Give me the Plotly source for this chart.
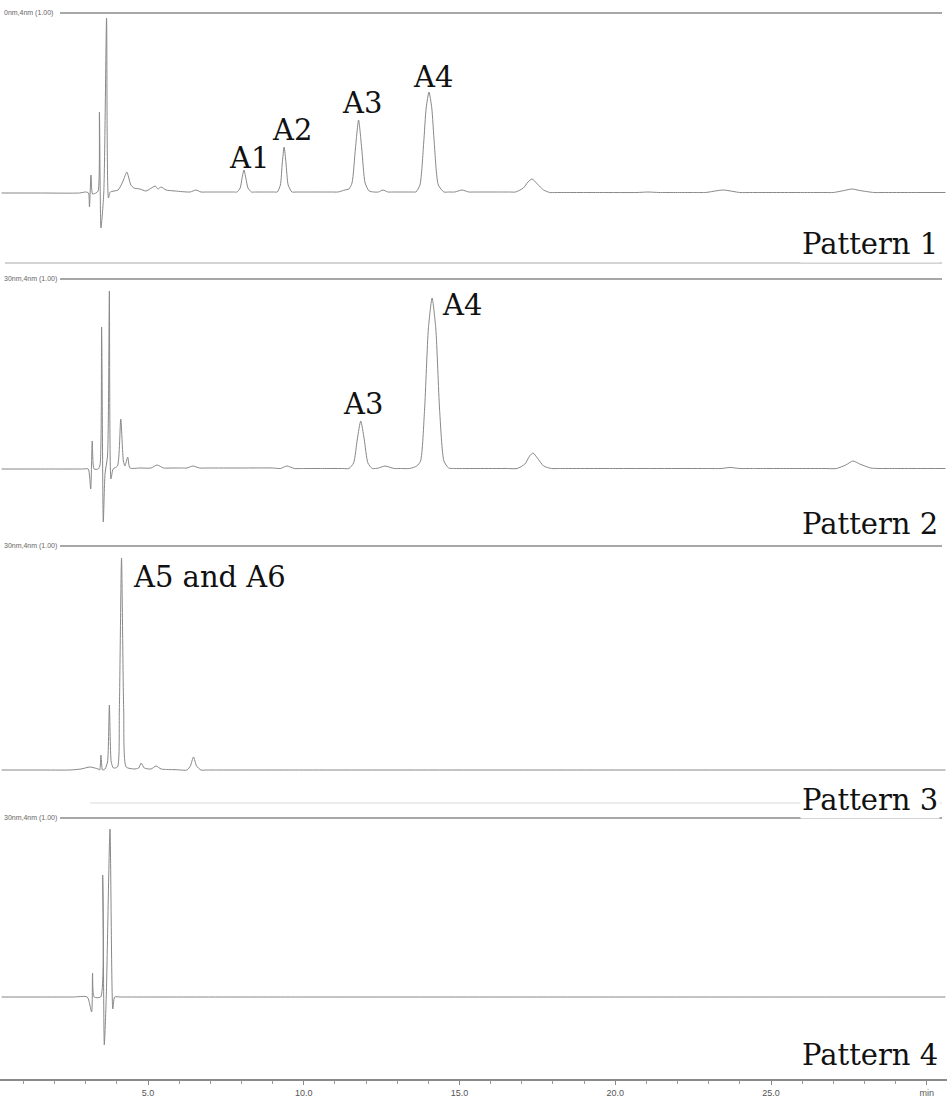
import plotly.graph_objects as go

W, H = 947, 1098

# ---------------- data (time in min, signal in arbitrary units, baseline = 0) -------------
p1_t = [0.3, 1.5, 2.80, 3.00, 3.09, 3.12, 3.17, 3.22, 3.33, 3.40, 3.44, 3.49, 3.58, 3.67, 3.73, 3.79,
        4.04, 4.20, 4.32, 4.45, 4.55, 4.74, 4.94, 5.23, 5.32, 5.42, 5.58, 5.87, 6.35, 6.54, 6.70,
        6.90, 7.40, 7.75, 7.86, 7.96, 8.02, 8.08, 8.14, 8.21, 8.32, 8.45,
        8.70, 9.05, 9.15, 9.25, 9.31, 9.37, 9.43, 9.50, 9.62, 9.75,
        10.20, 10.90, 11.10, 11.32, 11.45, 11.55, 11.66, 11.76, 11.86, 11.97, 12.10, 12.25, 12.40,
        12.54, 12.70, 12.85,
        13.20, 13.50, 13.60, 13.73, 13.85, 13.93, 14.02, 14.11, 14.19, 14.32, 14.50, 14.65,
        14.85, 15.08, 15.30, 15.50,
        16.20, 16.60, 16.80, 17.05, 17.20, 17.33, 17.50, 17.70, 17.90, 18.10,
        19.50, 20.70, 21.05, 21.40, 22.00, 22.60, 22.90, 23.46, 24.00, 24.40,
        26.00, 26.70, 27.00, 27.35, 27.60, 27.85, 28.30, 28.60, 29.50, 30.60]
p1_y = [0, 0, 0, 1, 0, -14, 18, -1, 0, 2, 81, -35, 0, 175, -5, 1,
        3, 12, 21, 8, 5, 4, 2, 7, 4, 6, 3, 2, 1, 3, 1,
        1, 1, 1, 1, 5, 15, 23, 15, 5, 1, 1,
        1, 1, 1, 8, 30, 46, 30, 8, 1, 1,
        1, 1, 1, 3, 4, 10, 45, 73, 45, 10, 2, 1, 1,
        3, 1, 1,
        1, 1, 1, 8, 50, 85, 101, 85, 50, 8, 1, 1,
        1, 3, 1, 1,
        1, 1, 1, 5, 11, 14, 9, 3, 0.5, 0.5,
        0.5, 0.5, 1, 0.5, 0.5, 0.5, 0.5, 3, 0.5, 0.5,
        0.5, 0.5, 0.5, 2.5, 4, 2.5, 0.5, 0.5, 0.5, 0.5]

p2_t = [0.3, 1.5, 2.90, 3.08, 3.16, 3.21, 3.27, 3.40, 3.46, 3.51, 3.565, 3.62, 3.70, 3.76, 3.81, 3.88,
        4.02, 4.125, 4.21, 4.26, 4.35, 4.42, 4.74, 5.10, 5.29, 5.50, 5.80, 6.10, 6.25, 6.44, 6.65, 6.90,
        8.00, 9.00, 9.25, 9.46, 9.70, 9.95,
        10.60, 11.25, 11.45, 11.60, 11.72, 11.83, 11.94, 12.06, 12.20, 12.40, 12.61, 12.90, 13.10,
        13.40, 13.63, 13.75, 13.88, 14.00, 14.12, 14.24, 14.36, 14.50, 14.65, 14.85,
        15.60, 16.50, 16.85, 17.10, 17.25, 17.36, 17.50, 17.70, 17.95, 18.20,
        20.00, 23.00, 23.40, 23.68, 24.00, 24.40,
        25.80, 26.70, 27.10, 27.40, 27.63, 27.85, 28.20, 28.50, 28.90, 29.70, 30.60]
p2_y = [0, 0, 0, 0, -20, 28, 0, 0, 4, 142, -53, -5, 13, 178, -10, 0,
        3, 50, 8, 3, 12, 1, 1, 1, 4, 1, 1, 1, 1, 3, 1, 1,
        1, 1, 0.5, 3, 0.5, 0.5,
        0.5, 0.5, 0.5, 6, 30, 48, 30, 6, 0.5, 1, 3, 0.5, 0.5,
        0.5, 3, 8, 60, 140, 171, 140, 60, 8, 1, 0.5,
        0.5, 0.5, 0.5, 5, 13, 16, 11, 3, 0.5, 0.5,
        0.5, 0.5, 0.5, 1.5, 0.5, 0.5,
        0.5, 0.5, 0.5, 4, 8, 5, 1, 0.5, 0.5, 0.5, 0.5]

p3_t = [0.3, 1.5, 2.50, 2.85, 3.14, 3.40, 3.45, 3.49, 3.54, 3.62, 3.70, 3.76, 3.82, 3.89,
        4.02, 4.08, 4.15, 4.22, 4.30, 4.55, 4.70, 4.78, 4.88, 5.10, 5.26, 5.42, 5.60,
        5.90, 6.25, 6.36, 6.46, 6.56, 6.70, 6.90, 7.40, 10.00, 20.00, 30.60]
p3_y = [0, 0, 0, 1, 3, 1, 0, 15, 0, 1, 8, 65, 8, 2,
        3, 60, 212, 60, 3, 1, 2, 7, 2, 1, 4, 1, 0.5,
        0.3, 0, 4, 13, 4, 0, 0, 0, 0, 0, 0]

p4_t = [0.3, 1.5, 2.60, 3.05, 3.19, 3.22, 3.27, 3.48, 3.545, 3.597, 3.66, 3.78, 3.87, 3.93,
        4.10, 4.50, 10.00, 20.00, 30.60]
p4_y = [0, 0, 0, 0, -15, 24, 0, 0, 122, -48, 0, 168, -12, 0,
        0, 0, 0, 0, 0]

x_tickvals = [5, 10, 15, 20, 25, 30]
x_ticktext = ["5.0", "10.0", "15.0", "20.0", "25.0", "min"]
detector_labels = ["0nm,4nm (1.00)", "30nm,4nm (1.00)", "30nm,4nm (1.00)", "30nm,4nm (1.00)"]
pattern_labels = ["Pattern 1", "Pattern 2", "Pattern 3", "Pattern 4"]
peak_labels = [  # (panel, text, time, height)
    (1, "A1", 8.24, 35), (1, "A2", 9.62, 63), (1, "A3", 11.87, 90), (1, "A4", 14.15, 116),
    (2, "A3", 11.90, 65), (2, "A4", 15.08, 164),
    (3, "A5 and A6", 6.99, 193),
]

# ---------------- layout geometry (pixels) ----------------
panel_top = [13, 279, 546, 818]
panel_base = [193, 469, 770, 997]
panel_low = [60, 60, 30, 63]
label_y = [244, 524, 800, 1055]

def py(p):
    return 1 - p / H

fig = go.Figure()
series = [(p1_t, p1_y), (p2_t, p2_y), (p3_t, p3_y), (p4_t, p4_y)]
for i, (t, y) in enumerate(series):
    fig.add_trace(go.Scatter(x=t, y=y, mode="lines", xaxis="x",
                             yaxis="y" if i == 0 else f"y{i+1}",
                             line=dict(color="#888888", width=1.0, shape="spline", smoothing=0.6),
                             showlegend=False, hoverinfo="skip"))

PX_PER_MIN = 31.15
X_OFFSET = 7.75
x0_min = X_OFFSET / PX_PER_MIN
x1_min = (W + X_OFFSET) / PX_PER_MIN
layout = dict(
    width=W, height=H, margin=dict(l=0, r=0, t=0, b=0),
    paper_bgcolor="white", plot_bgcolor="white", showlegend=False,
    xaxis=dict(range=[x0_min, x1_min], anchor="free", position=py(1080),
               showgrid=False, zeroline=False, showline=True, linecolor="#8a8a8a", linewidth=1.5,
               tickvals=x_tickvals, ticktext=x_ticktext, ticks="outside", ticklen=4,
               tickcolor="#8a8a8a",
               tickfont=dict(family="Liberation Sans Narrow, Liberation Sans", size=9, color="#555"),
               minor=dict(dtick=1, ticks="outside", ticklen=3, tickcolor="#9a9a9a")),
)
for i in range(4):
    key = "yaxis" if i == 0 else f"yaxis{i+1}"
    rng_top = panel_base[i] - panel_top[i]
    layout[key] = dict(domain=[py(panel_base[i] + panel_low[i]), py(panel_top[i])],
                       range=[-panel_low[i], rng_top], anchor="x",
                       visible=False, showgrid=False, zeroline=False)
fig.update_layout(**layout)

# panel border lines
shapes = []
for i in range(4):
    shapes.append(dict(type="line", xref="paper", yref="paper",
                       x0=60 / W, x1=942 / W, y0=py(panel_top[i]), y1=py(panel_top[i]),
                       line=dict(color="#8a8a8a", width=1.5)))
shapes.append(dict(type="line", xref="paper", yref="paper", x0=5 / W, x1=942 / W,
                   y0=py(263), y1=py(263), line=dict(color="#a8a8a8", width=1.2)))
shapes.append(dict(type="line", xref="paper", yref="paper", x0=90 / W, x1=942 / W,
                   y0=py(803), y1=py(803), line=dict(color="#dadada", width=1)))
fig.update_layout(shapes=shapes)

ann = []
for i in range(4):
    ann.append(dict(text=detector_labels[i], xref="paper", yref="paper", x=2 / W, y=py(panel_top[i]),
                    xanchor="left", yanchor="middle", showarrow=False,
                    font=dict(family="Liberation Sans Narrow, Liberation Sans", size=7, color="#666")))
    ann.append(dict(text=pattern_labels[i], xref="paper", yref="paper", x=940 / W, y=py(label_y[i]),
                    xanchor="right", yanchor="middle", showarrow=False, bgcolor="white",
                    font=dict(family="DejaVu Serif", size=29, color="#111")))
for panel, text, t, h in peak_labels:
    yref = "y" if panel == 1 else f"y{panel}"
    ann.append(dict(text=text, xref="x", yref=yref, x=t, y=h, xanchor="center", yanchor="middle",
                    showarrow=False, font=dict(family="DejaVu Serif", size=29, color="#111")))
fig.update_layout(annotations=ann)

fig.write_html("out.html", config={"displayModeBar": False},
               post_script="document.body.style.margin='0';document.body.style.overflow='hidden';")
